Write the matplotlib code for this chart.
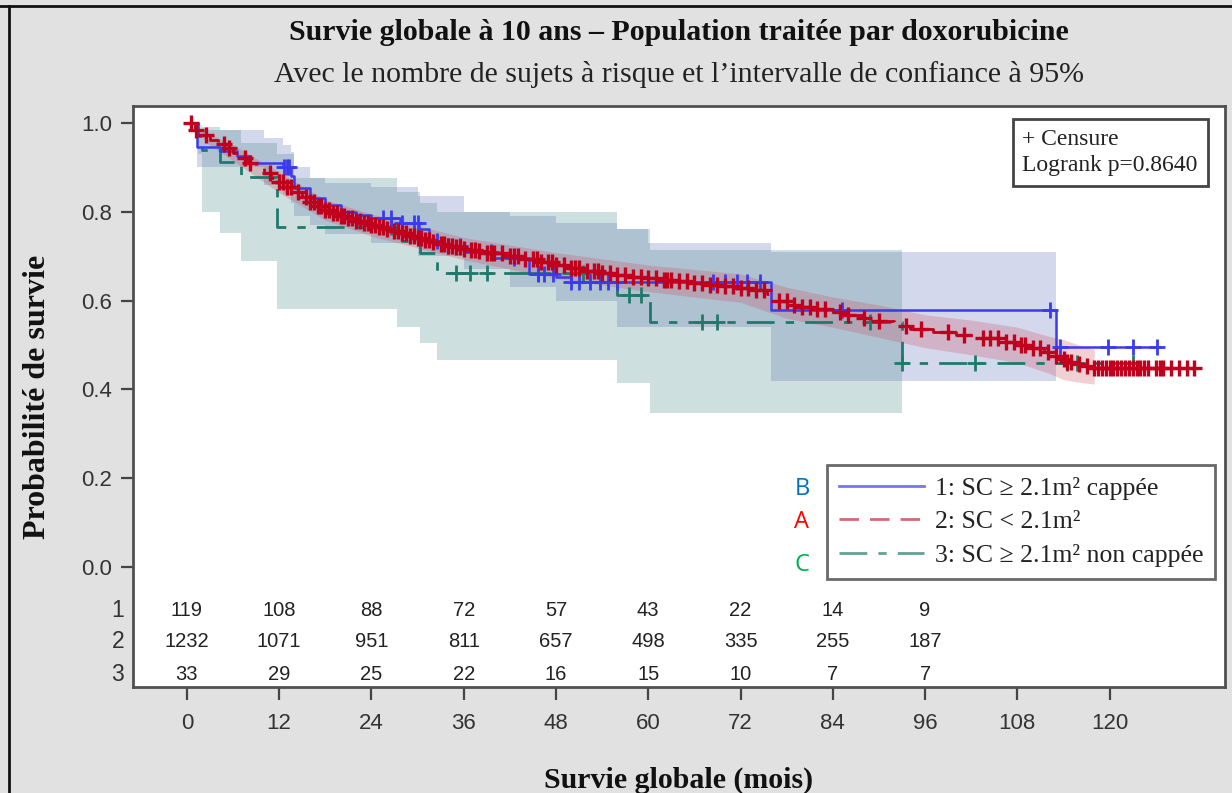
import numpy as np
import matplotlib
matplotlib.use("Agg")
import matplotlib.pyplot as plt
from matplotlib.lines import Line2D

# ---------------- data ----------------
title = "Survie globale à 10 ans – Population traitée par doxorubicine"
subtitle = "Avec le nombre de sujets à risque et l\u2019intervalle de confiance à 95%"
xlabel = "Survie globale (mois)"
ylabel = "Probabilité de survie"
series_labels = ["1: SC \u2265 2.1m\u00b2 cappée", "2: SC < 2.1m\u00b2", "3: SC \u2265 2.1m\u00b2 non cappée"]
series_letters = ["B", "A", "C"]

xticks = [0, 12, 24, 36, 48, 60, 72, 84, 96, 108, 120]
yticks = [0.0, 0.2, 0.4, 0.6, 0.8, 1.0]

# at-risk table
risk_times = [0, 12, 24, 36, 48, 60, 72, 84, 96]
risk_g1 = [119, 108, 88, 72, 57, 43, 22, 14, 9]
risk_g2 = [1232, 1071, 951, 811, 657, 498, 335, 255, 187]
risk_g3 = [33, 29, 25, 22, 16, 15, 10, 7, 7]

# group 1 (blue) KM steps
g1_t = [0, 1.3, 4.3, 6.5, 8.2, 12.5, 13.5, 13.9, 16, 18, 20, 22, 24, 27.7, 30.2, 31.5, 33, 36, 40, 44.5, 48, 50, 76, 113]
g1_s = [1.0, 0.946, 0.937, 0.925, 0.91, 0.90, 0.88, 0.853, 0.83, 0.815, 0.80, 0.792, 0.786, 0.775, 0.762, 0.735, 0.722, 0.71, 0.695, 0.66, 0.652, 0.642, 0.578, 0.496]
g1_end = 126.5
g1_cens = [12.6, 13.0, 13.3, 25.5, 26.5, 28.0, 29.5, 30.0, 32.5, 34.0, 35.5, 39.5, 42.6, 45.6, 46.5, 47.6, 50.0, 51.0, 52.4, 53.7, 54.8, 55.9,
           68.4, 70.0, 71.5, 72.8, 74.5, 85.2, 112.2, 113.5, 119.8, 123.0, 126.1]
# group 1 confidence band (steps)
g1_band_t = [0, 1.3, 10, 12.5, 13.5, 13.9, 16, 18, 24, 30, 36, 42, 48, 56, 60, 76, 113]
g1_lo = [1.0, 0.90, 0.86, 0.84, 0.82, 0.79, 0.77, 0.75, 0.73, 0.70, 0.67, 0.63, 0.60, 0.54, 0.54, 0.42, 0.42]
g1_hi = [1.0, 0.985, 0.965, 0.95, 0.935, 0.90, 0.875, 0.865, 0.855, 0.835, 0.80, 0.79, 0.775, 0.76, 0.73, 0.71, 0.71]

# group 2 (red) KM steps
g2_t = [0, 1, 2, 3, 4, 5, 6, 7, 8, 9, 10, 11, 12, 13, 14, 15, 16, 17, 18, 19, 20, 21, 22, 23, 24, 25, 26, 27, 28, 29, 30,
        31, 32, 33, 34, 35, 36, 37, 38, 39, 40, 42, 44, 46, 48, 50, 52, 54, 56, 58, 60, 62, 64, 66, 68, 70, 72, 74, 75.5,
        77, 78.5, 80, 82, 84, 86, 88, 90, 92, 94, 97, 100, 103, 106, 108, 110, 111.5, 112.5, 113.5, 114.5, 115.5, 116.5, 117.5]
g2_s = [1.0, 0.985, 0.972, 0.962, 0.953, 0.943, 0.933, 0.922, 0.910, 0.899, 0.888, 0.877, 0.866, 0.855, 0.844, 0.833,
        0.823, 0.813, 0.804, 0.797, 0.791, 0.785, 0.780, 0.775, 0.770, 0.765, 0.760, 0.756, 0.751, 0.746, 0.741, 0.736,
        0.731, 0.727, 0.723, 0.720, 0.717, 0.714, 0.711, 0.708, 0.706, 0.701, 0.694, 0.686, 0.679, 0.673, 0.667, 0.663,
        0.658, 0.654, 0.650, 0.647, 0.643, 0.640, 0.636, 0.632, 0.628, 0.623, 0.614, 0.600, 0.590, 0.585, 0.580, 0.574,
        0.567, 0.560, 0.553, 0.543, 0.535, 0.529, 0.523, 0.515, 0.506, 0.500, 0.493, 0.484, 0.476, 0.468, 0.462, 0.457,
        0.452, 0.448]
g2_end = 131
g2_cens = [0.5, 1.2, 2.5, 4.8, 5.5, 7.5, 8.2, 10.8, 12.0, 12.5, 13.0, 13.5, 14.5, 15.5, 16.0, 16.5, 17.0, 17.5, 18.0, 18.5,
           19.0, 19.5, 20.0, 20.5, 21.0, 21.5, 22.0, 22.5, 23.0, 23.5, 24.0, 24.5, 25.0, 25.5, 26.0, 27.0, 27.5, 28.0, 28.5,
           29.0, 29.5, 30.0, 30.5, 31.0, 31.5, 32.0, 33.0, 33.5, 34.0, 34.5, 35.0, 35.5, 36.0, 37.0, 37.5, 38.0, 39.0, 39.5,
           40.0, 41.0, 42.0, 42.5, 43.0, 44.0, 45.0, 45.5, 46.0, 47.0, 47.5, 48.0, 49.0, 50.0, 50.5, 51.0, 52.0, 53.0, 53.5,
           54.0, 55.0, 56.0, 57.0, 58.0, 59.0, 60.0, 61.0, 62.0, 62.5, 63.0, 64.0, 65.0, 66.0, 67.0, 68.0, 69.0, 70.0, 71.0,
           72.0, 73.0, 74.0, 75.0, 77.0, 78.0, 79.0, 80.0, 81.0, 82.0, 83.0, 85.0, 86.0, 88.0, 90.0, 93.5, 95.5, 99.0, 101.0,
           103.5, 104.5, 105.5, 106.5, 107.5, 108.5, 109.0, 110.0, 111.0, 112.0, 113.0, 114.0, 114.5, 115.0, 116.0, 117.0,
           118.0, 118.5, 119.0, 119.5, 120.0, 120.5, 121.0, 121.5, 122.0, 122.5, 123.0, 123.5, 124.0, 124.5, 125.0, 126.0,
           126.5, 127.0, 128.0, 129.0, 130.0, 131.0]
# group 2 confidence band (smooth)
g2_band_t = [0, 3, 6, 12, 18, 24, 36, 48, 60, 72, 78, 84, 90, 96, 102, 108, 112, 114, 116, 118]
g2_lo = [1.0, 0.950, 0.915, 0.843, 0.781, 0.745, 0.692, 0.650, 0.620, 0.596, 0.560, 0.540, 0.517, 0.494, 0.478, 0.460,
         0.437, 0.422, 0.416, 0.412]
g2_hi = [1.0, 0.975, 0.951, 0.889, 0.827, 0.795, 0.742, 0.708, 0.680, 0.660, 0.630, 0.608, 0.590, 0.568, 0.556, 0.540,
         0.520, 0.512, 0.500, 0.490]

# group 3 (teal) KM steps
g3_t = [0, 1.5, 2.0, 4.3, 7.0, 11.7, 27.3, 28.0, 30.3, 32.5, 55.9, 60.2, 93.0]
g3_s = [1.0, 0.97, 0.94, 0.912, 0.878, 0.766, 0.752, 0.733, 0.707, 0.662, 0.613, 0.552, 0.46]
g3_end = 123.5
g3_cens = [26.5, 35.0, 36.8, 39.0, 45.6, 51.5, 57.5, 59.0, 67.0, 69.0, 88.8, 93.0, 102.5, 114.4, 115.7, 123.0]
g3_band_t = [0, 1.5, 2.0, 4.3, 7.0, 11.7, 14.0, 27.3, 30.3, 32.5, 55.9, 60.2, 93.0]
g3_lo = [1.0, 0.93, 0.80, 0.752, 0.69, 0.58, 0.58, 0.54, 0.505, 0.466, 0.414, 0.347, 0.347]
g3_hi = [1.0, 0.995, 0.99, 0.985, 0.955, 0.93, 0.875, 0.845, 0.82, 0.80, 0.76, 0.714, 0.714]

logrank = "Logrank p=0.8640"

# ---------------- styling ----------------
BG = "#e1e1e1"
C1 = "#3a3aee"
C2 = "#c0001c"
C3 = "#1f7a6a"
SERIF = ["Liberation Serif", "DejaVu Serif"]
SANS = ["Liberation Sans", "DejaVu Sans"]

W, H = 1232, 793
fig = plt.figure(figsize=(W / 100, H / 100), dpi=100, facecolor=BG)
ax = fig.add_axes([133 / W, 1 - 687 / H, 1092 / W, 581 / H])
ax.set_facecolor("white")
ax.set_xlim(-7, 135)
ax.set_ylim(-0.27, 1.038)


def step_value(ts, ss, x):
    idx = np.searchsorted(np.asarray(ts), np.asarray(x), side="right") - 1
    return np.asarray(ss)[idx]


# bands
ax.fill_between(g1_band_t, g1_lo, g1_hi, step="post", color=(87 / 255, 103 / 255, 187 / 255), alpha=0.25, lw=0, zorder=1)
ax.fill_between(g3_band_t, g3_lo, g3_hi, step="post", color=(63 / 255, 131 / 255, 131 / 255), alpha=0.25, lw=0, zorder=1.1)
ax.fill_between(g2_band_t, g2_lo, g2_hi, color=(203 / 255, 67 / 255, 83 / 255), alpha=0.25, lw=0, zorder=1.2)

# curves
ax.step(g3_t + [g3_end], g3_s + [g3_s[-1]], where="post", color=C3, lw=2, dashes=[10, 4, 3, 4], zorder=3)
ax.step(g1_t + [g1_end], g1_s + [g1_s[-1]], where="post", color=C1, lw=1.8, zorder=3.2)
ax.step(g2_t + [g2_end], g2_s + [g2_s[-1]], where="post", color=C2, lw=2, dashes=[7, 4], zorder=3.4)

# censor marks
ax.plot(g3_cens, step_value(g3_t, g3_s, g3_cens), ls="none", marker="+", ms=11, mew=2, color=C3, zorder=4)
ax.plot(g1_cens, step_value(g1_t, g1_s, g1_cens), ls="none", marker="+", ms=11, mew=2, color=C1, zorder=4.2)
ax.plot(g2_cens, step_value(g2_t, g2_s, g2_cens), ls="none", marker="+", ms=11, mew=2.4, color=C2, zorder=4.4)

# axes formatting
ax.set_xticks(xticks)
ax.set_xticklabels([str(v) for v in xticks])
ax.set_yticks(yticks)
ax.set_yticklabels([f"{v:.1f}" for v in yticks])
ax.tick_params(axis="both", direction="out", length=9, width=1.6, color="#444444", labelcolor="#333333", labelsize=16)
ax.tick_params(axis="x", pad=10)
ax.tick_params(axis="y", pad=6)
for lab in ax.get_xticklabels() + ax.get_yticklabels():
    lab.set_family(SANS)
for sp in ax.spines.values():
    sp.set_color("#505050")
    sp.set_linewidth(2)

# at-risk table
rows = [risk_g1, risk_g2, risk_g3]
row_y = [-0.097, -0.167, -0.241]
for i, (vals, yy) in enumerate(zip(rows, row_y)):
    for t, v in zip(risk_times, vals):
        ax.text(t, yy, str(v), ha="center", va="center", fontsize=14.5, color="#222222", family=SANS)
    ax.text(-0.008, yy, str(i + 1), transform=ax.get_yaxis_transform(), ha="right", va="center",
            fontsize=16.5, color="#333333", family=SANS)

# legend
handles = [Line2D([], [], color=C1, lw=2, alpha=0.7),
           Line2D([], [], color=C2, lw=2, dashes=[7, 4], alpha=0.6),
           Line2D([], [], color=C3, lw=2, dashes=[10, 4, 3, 4], alpha=0.7)]
leg = ax.legend(handles, series_labels, loc="upper right", bbox_to_anchor=(0.991, 0.382), frameon=True,
                fancybox=False, prop={"family": SERIF, "size": 18.5}, handlelength=3.3, handletextpad=0.45,
                borderpad=0.45, labelspacing=0.42, borderaxespad=0)
leg.get_frame().set_edgecolor("#444444")
leg.get_frame().set_linewidth(2)
for txt in leg.get_texts():
    txt.set_color("#222222")

# group letters
letter_colors = ["#0070c0", "#ff0000", "#00b050"]
letter_y = [489, 522, 565]
for L, c, yp in zip(series_letters, letter_colors, letter_y):
    fig.text(802 / W, 1 - yp / H, L, color=c, fontsize=17, ha="center", va="center", family=["Open Sans", "DejaVu Sans"])

# censure / logrank box
ax.text(0.8145, 0.960, "+ Censure\n" + logrank, transform=ax.transAxes, ha="left", va="top", fontsize=17,
        family=SERIF, color="#222222", linespacing=1.3,
        bbox=dict(boxstyle="square,pad=0.42", fc="white", ec="#444444", lw=2), zorder=6)

# titles and labels
xc = (133 + 1092 / 2) / W
fig.text(xc, 1 - 33 / H, title, ha="center", va="center", fontsize=21.5, fontweight="bold", family=SERIF, color="#111111")
fig.text(xc, 1 - 74 / H, subtitle, ha="center", va="center", fontsize=21.5, family=SERIF, color="#222222")
fig.text(38 / W, 1 - 397 / H, ylabel, ha="center", va="center", rotation=90, fontsize=23, fontweight="bold",
         family=SERIF, color="#111111")
fig.text(xc, 1 - 780 / H, xlabel, ha="center", va="center", fontsize=21.5, fontweight="bold", family=SERIF,
         color="#111111")

# outer frame lines (top and left)
fig.add_artist(Line2D([0, 1], [1 - 6 / H, 1 - 6 / H], transform=fig.transFigure, color="#111111", lw=2))
fig.add_artist(Line2D([9 / W, 9 / W], [0, 1 - 6 / H], transform=fig.transFigure, color="#111111", lw=2))

fig.savefig("out.png", dpi=100, facecolor=BG)
